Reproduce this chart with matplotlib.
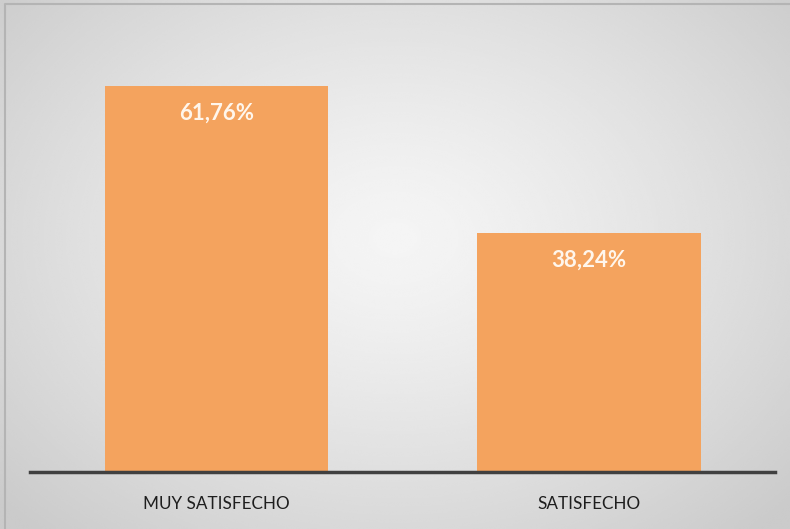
import numpy as np
import matplotlib.pyplot as plt

categories = ["MUY SATISFECHO", "SATISFECHO"]
values = [61.76, 38.24]
labels = ["61,76%", "38,24%"]

fig = plt.figure(figsize=(7.9, 5.29), dpi=100)

# radial grey background behind the whole chart
bg = fig.add_axes([0, 0, 1, 1])
yy, xx = np.mgrid[-1:1:400j, -1:1:600j]
r = np.sqrt(xx**2 + ((yy + 0.1) * 0.9)**2)
shade = 0.96 - 0.165 * np.clip(r / 1.35, 0, 1)**1.3
bg.imshow(shade, cmap="gray", vmin=0, vmax=1, aspect="auto",
          extent=[0, 1, 0, 1], interpolation="bicubic")
bg.plot([5/790, 5/790, 1], [0, 1 - 4/529, 1 - 4/529], color="#b4b4b4", lw=1.5)
bg.set_xlim(0, 1)
bg.set_ylim(0, 1)
bg.axis("off")

ax = fig.add_axes([30/790, 1 - 472/529, 745/790, 437.5/529])
ax.patch.set_alpha(0)
x = np.arange(len(categories))
bars = ax.bar(x, values, width=0.6, color="#F4A35E", zorder=2)
ax.set_xlim(-0.5, 1.5)
ax.set_ylim(0, 70)

for b, lab in zip(bars, labels):
    ax.annotate(lab, (b.get_x() + b.get_width() / 2, b.get_height()),
                xytext=(0, -27), textcoords="offset pixels",
                ha="center", va="center", color="#FFF6EC",
                fontsize=16, fontweight="bold", family="Lato")

for s in ["top", "right", "left"]:
    ax.spines[s].set_visible(False)
ax.spines["bottom"].set_color("#404040")
ax.spines["bottom"].set_linewidth(2.5)
ax.spines["bottom"].set_zorder(3)
ax.set_yticks([])
ax.set_xticks(x)
ax.set_xticklabels(categories, fontsize=12.3, family="Lato", color="#1e1e1e")
ax.tick_params(axis="x", length=0, pad=17)

fig.savefig("out.png", dpi=100)
